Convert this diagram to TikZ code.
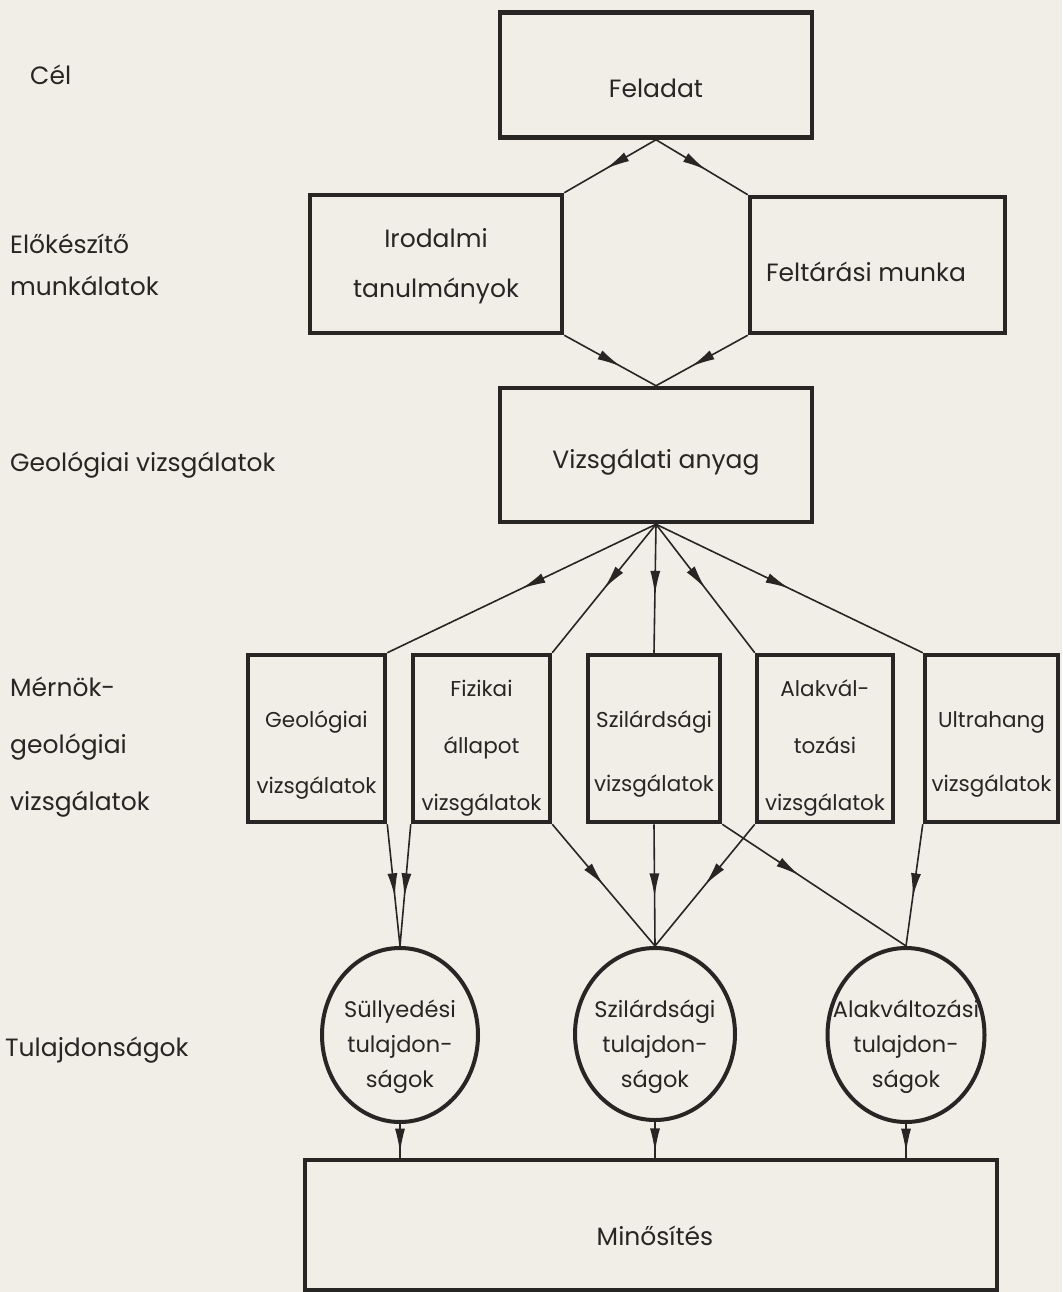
\documentclass[tikz,border=0pt]{standalone}
\usepackage{fontspec}
\setmainfont{Poppins}
\usetikzlibrary{arrows.meta,decorations.markings,shapes.geometric}
\definecolor{paper}{RGB}{240,238,230}
\definecolor{ink}{RGB}{40,38,36}
\tikzset{
  box/.style={draw=ink, line width=4.5pt, rectangle, inner sep=0pt},
  oval/.style={draw=ink, line width=4pt, ellipse, inner sep=0pt},
  txt/.style={align=center, text=ink, inner sep=0pt, font=\fontsize{25}{50}\selectfont},
  rowtxt/.style={txt, font=\fontsize{21.5}{57}\selectfont},
  ovtxt/.style={txt, font=\fontsize{22.5}{35}\selectfont},
  lab/.style={anchor=west, align=left, text=ink, font=\fontsize{25}{42}\selectfont, inner sep=0pt},
  conn/.style={draw=ink, line width=1.6pt},
  midarrow/.style={conn, postaction={decorate}, decoration={markings, mark=at position #1 with {\arrow{Latex[length=24pt,width=10pt]}}}},
}
\begin{document}
\begin{tikzpicture}[x=1pt,y=-1pt]
\fill[paper] (0,0) rectangle (1062,1292);
\useasboundingbox (0,0) rectangle (1062,1292);

% left labels
\node[lab] (l1) at (30,75) {Cél};
\node[lab] (l2) at (10,265) {Előkészítő\\munkálatok};
\node[lab] (l3) at (10,465) {Geológiai vizsgálatok};
\node[lab, font=\fontsize{25}{57}\selectfont] (l4) at (10,747) {Mérnök-\\geológiai\\vizsgálatok};
\node[lab] (l5) at (5,1050) {Tulajdonságok};

% boxes
\node[box, minimum width=312pt, minimum height=125pt] (fel) at (656,75) {};
\node[txt] (felt) at (656,88) {Feladat};
\node[box, minimum width=252pt, minimum height=138pt] (iro) at (436,264) {};
\node[txt] (irot) at (436,266) {Irodalmi\\tanulmányok};
\node[box, minimum width=255pt, minimum height=136pt] (fta) at (877.5,265) {};
\node[txt] (ftat) at (866,272) {Feltárási munka};
\node[box, minimum width=312pt, minimum height=134pt] (viz) at (656,455) {};
\node[txt] (vizt) at (656,462) {Vizsgálati anyag};

\node[box, minimum width=137pt, minimum height=167pt] (geo) at (316.5,738.5) {};
\node[box, minimum width=137pt, minimum height=167pt] (fiz) at (481.5,738.5) {};
\node[box, minimum width=132pt, minimum height=167pt] (szi) at (654,738.5) {};
\node[box, minimum width=136pt, minimum height=167pt] (ala) at (825,738.5) {};
\node[box, minimum width=133pt, minimum height=167pt] (ult) at (991.5,738.5) {};
\node[rowtxt, font=\fontsize{21.5}{66}\selectfont] (geot) at (316.5,755) {Geológiai\\vizsgálatok};
\node[rowtxt] (fizt) at (481.5,748) {Fizikai\\állapot\\vizsgálatok};
\node[rowtxt, font=\fontsize{21.5}{64}\selectfont] (szit) at (654,754) {Szilárdsági\\vizsgálatok};
\node[rowtxt] (alat) at (825,748) {Alakvál-\\tozási\\vizsgálatok};
\node[rowtxt, font=\fontsize{21.5}{64}\selectfont] (ultt) at (991.5,754) {Ultrahang\\vizsgálatok};

\node[oval, minimum width=156pt, minimum height=174pt] (c1) at (400,1035) {};
\node[oval, minimum width=160pt, minimum height=172pt] (c2) at (655,1034) {};
\node[oval, minimum width=157pt, minimum height=174pt] (c3) at (906,1035) {};
\node[ovtxt] (c1t) at (400,1047) {Süllyedési\\tulajdon-\\ságok};
\node[ovtxt] (c2t) at (655,1047) {Szilárdsági\\tulajdon-\\ságok};
\node[ovtxt] (c3t) at (906,1047) {Alakváltozási\\tulajdon-\\ságok};

\node[box, minimum width=692pt, minimum height=130pt] (min) at (651,1225) {};
\node[txt] (mint) at (655,1236) {Minősítés};

% connectors
\draw[midarrow=0.55] (fel.south) -- (iro.north east);
\draw[midarrow=0.55] (fel.south) -- (fta.north west);
\draw[midarrow=0.62] (iro.south east) -- (viz.north);
\draw[midarrow=0.62] (fta.south west) -- (viz.north);

\draw[midarrow=0.5] (viz.south) -- (geo.north east);
\draw[midarrow=0.5] (viz.south) -- (fiz.north east);
\draw[midarrow=0.55] (viz.south) -- (szi.north);
\draw[midarrow=0.5] (viz.south) -- (ala.north west);
\draw[midarrow=0.5] (viz.south) -- (ult.north west);

\draw[midarrow=0.6] (geo.south east) -- (c1.north);
\draw[midarrow=0.6] (fiz.south west) -- (c1.north);
\draw[midarrow=0.5] (fiz.south east) -- (c2.north);
\draw[midarrow=0.6] (szi.south) -- (c2.north);
\draw[midarrow=0.5] (ala.south west) -- (c2.north);
\draw[midarrow=0.42] (szi.south east) -- (c3.north);
\draw[midarrow=0.6] (ult.south west) -- (c3.north);

\draw[midarrow=0.85] (c1.south) -- (c1.south |- min.north);
\draw[midarrow=0.85] (c2.south) -- (c2.south |- min.north);
\draw[midarrow=0.85] (c3.south) -- (c3.south |- min.north);
\end{tikzpicture}
\end{document}
